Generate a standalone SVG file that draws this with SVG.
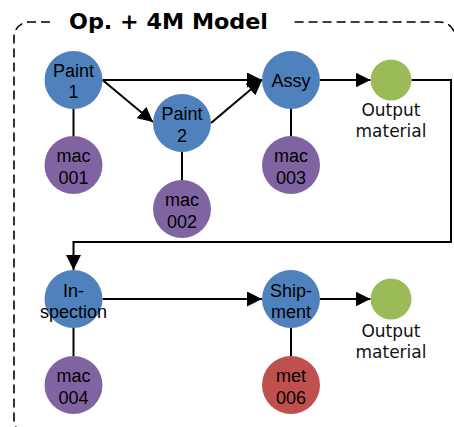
<svg xmlns="http://www.w3.org/2000/svg" width="454" height="427" viewBox="0 0 454 427">
<style>
.bd{fill:none;stroke:#000;stroke-width:1.6;stroke-dasharray:9 5}
.ln{fill:none;stroke:#000;stroke-width:2}
.op{fill:#4F81BD}
.mc{fill:#8064A2}
.mt{fill:#C0504D}
.out{fill:#9BBB59}
.t{font-family:"Liberation Sans",Arial,sans-serif;font-size:18px;text-anchor:middle;fill:#000}
.o{font-family:"DejaVu Sans",Verdana,sans-serif;font-size:17px;text-anchor:middle;fill:#111}
.ti{font-family:"DejaVu Sans",Verdana,sans-serif;font-size:22px;font-weight:bold;fill:#000}
</style>
<defs>
<marker id="ah" markerUnits="userSpaceOnUse" markerWidth="15" markerHeight="15" refX="15" refY="7.5" orient="auto">
<path d="M0,0 L15,7.5 L0,15 z" fill="#000"/>
</marker>
</defs>
<rect width="454" height="427" fill="#fff"/>
<g id="frame">
<path class="bd" d="M50,22 L29,22 A15,15 0 0 0 14,37 L14,420 A15,15 0 0 0 29,435 L440,435 A15,15 0 0 0 455,420 L455,37 A15,15 0 0 0 440,22 L292,22"/>
<text class="ti" x="69" y="29" textLength="199" lengthAdjust="spacingAndGlyphs">Op. + 4M Model</text>
</g>
<g id="connectors">
<line class="ln" x1="102.5" y1="80" x2="262" y2="80" marker-end="url(#ah)"/>
<line class="ln" x1="102.5" y1="80" x2="153" y2="122" marker-end="url(#ah)"/>
<line class="ln" x1="211" y1="123" x2="262" y2="80" marker-end="url(#ah)"/>
<line class="ln" x1="320" y1="80" x2="370.5" y2="80" marker-end="url(#ah)"/>
<path class="ln" d="M411.5,80 H451 V242 H73.5 V270" marker-end="url(#ah)"/>
<line class="ln" x1="102.5" y1="299" x2="262" y2="299" marker-end="url(#ah)"/>
<line class="ln" x1="320" y1="299" x2="370.5" y2="299" marker-end="url(#ah)"/>
<line class="ln" x1="73.5" y1="108" x2="73.5" y2="137"/>
<line class="ln" x1="182" y1="151" x2="182" y2="181"/>
<line class="ln" x1="291" y1="108" x2="291" y2="137"/>
<line class="ln" x1="73.5" y1="327" x2="73.5" y2="357"/>
<line class="ln" x1="291" y1="327" x2="291" y2="357"/>
</g>
<g id="paint1"><circle class="op" cx="73.5" cy="80" r="29"/><text class="t" x="73.5" y="76.5">Paint</text><text class="t" x="73.5" y="98">1</text></g>
<g id="paint2"><circle class="op" cx="182" cy="123" r="29"/><text class="t" x="182" y="119.5">Paint</text><text class="t" x="182" y="141.5">2</text></g>
<g id="assy"><circle class="op" cx="291" cy="80" r="29"/><text class="t" x="291" y="87">Assy</text></g>
<g id="output1"><circle class="out" cx="391" cy="80" r="20.5"/><text class="o" x="391" y="115.5">Output</text><text class="o" x="391" y="136.5">material</text></g>
<g id="mac001"><circle class="mc" cx="73.5" cy="165" r="29"/><text class="t" x="73.5" y="161.5">mac</text><text class="t" x="73.5" y="184">001</text></g>
<g id="mac002"><circle class="mc" cx="182" cy="209" r="29"/><text class="t" x="182" y="205.5">mac</text><text class="t" x="182" y="228">002</text></g>
<g id="mac003"><circle class="mc" cx="291" cy="165" r="29"/><text class="t" x="291" y="161.5">mac</text><text class="t" x="291" y="184">003</text></g>
<g id="inspection"><circle class="op" cx="73.5" cy="299" r="29"/><text class="t" x="73.5" y="296.5">In-</text><text class="t" x="73.5" y="317.5">spection</text></g>
<g id="shipment"><circle class="op" cx="291" cy="299" r="29"/><text class="t" x="291" y="296.5">Ship-</text><text class="t" x="291" y="317.5">ment</text></g>
<g id="output2"><circle class="out" cx="391" cy="299" r="20.5"/><text class="o" x="391" y="336.5">Output</text><text class="o" x="391" y="357.5">material</text></g>
<g id="mac004"><circle class="mc" cx="73.5" cy="385" r="29"/><text class="t" x="73.5" y="381.5">mac</text><text class="t" x="73.5" y="404">004</text></g>
<g id="met006"><circle class="mt" cx="291" cy="385" r="29"/><text class="t" x="291" y="381.5">met</text><text class="t" x="291" y="404">006</text></g>
</svg>
